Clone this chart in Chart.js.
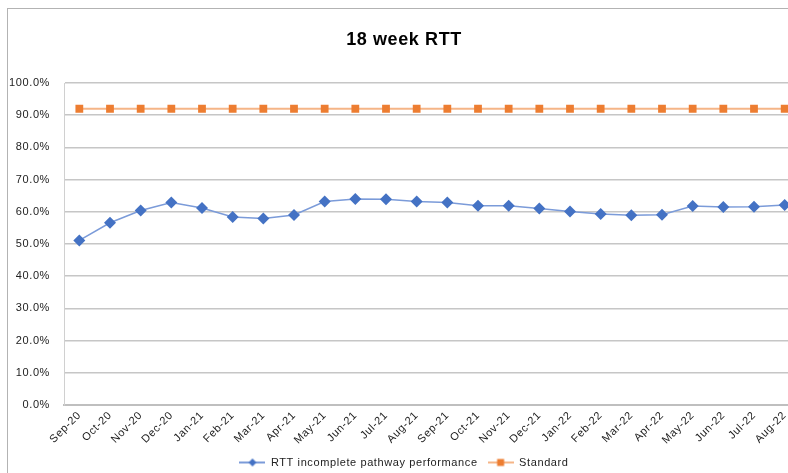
<!DOCTYPE html>
<html>
<head>
<meta charset="utf-8">
<script src="https://cdn.jsdelivr.net/npm/chart.js@4.4.1/dist/chart.umd.min.js"></script>
<style>
  html, body { margin: 0; padding: 0; background: #fff; overflow: hidden; width: 788px; height: 473px; }
  #frame { position: absolute; left: 7px; top: 8px; width: 830px; height: 500px; border-left: 1px solid #b3b3b3; border-top: 1px solid #b3b3b3; }
  #c { position: absolute; left: 0; top: 0; }
</style>
</head>
<body>
<div id="frame"><canvas id="c" width="800" height="464"></canvas></div>
<script>
const months = ['Sep-20','Oct-20','Nov-20','Dec-20','Jan-21','Feb-21','Mar-21','Apr-21','May-21','Jun-21','Jul-21','Aug-21',
                'Sep-21','Oct-21','Nov-21','Dec-21','Jan-22','Feb-22','Mar-22','Apr-22','May-22','Jun-22','Jul-22','Aug-22'];
const rttPerformance = [51.1,56.6,60.4,62.9,61.2,58.4,57.9,59.0,63.2,64.0,63.9,63.2,
                        62.9,61.9,61.9,61.0,60.1,59.3,58.9,59.1,61.8,61.5,61.6,62.1];
const standardValues = [92,92,92,92,92,92,92,92,92,92,92,92,
                        92,92,92,92,92,92,92,92,92,92,92,92];
const yTicks = [0,10,20,30,40,50,60,70,80,90,100];
const seriesNames = ['RTT incomplete pathway performance','Standard'];
const chartTitle = '18 week RTT';

const FONT = "'Liberation Sans', Arial, sans-serif";
const blueMark = '#4472C4', blueLine = '#7b9bd9';
const orangeMark = '#ED7D31', orangeLine = '#f5b587';

function legendIcon(lineColor, markColor, shape) {
  const cv = document.createElement('canvas');
  cv.width = 26; cv.height = 12;
  const g = cv.getContext('2d');
  g.strokeStyle = lineColor; g.lineWidth = 2;
  g.beginPath(); g.moveTo(0, 6); g.lineTo(26, 6); g.stroke();
  g.fillStyle = markColor;
  g.beginPath();
  if (shape === 'diamond') { g.moveTo(13, 2); g.lineTo(17, 6); g.lineTo(13, 10); g.lineTo(9, 6); g.closePath(); }
  else { g.rect(9.5, 2.5, 7, 7); }
  g.fill();
  return cv;
}
const icons = [legendIcon(blueLine, blueMark, 'diamond'), legendIcon(orangeLine, orangeMark, 'square')];

const spacingPlugin = {
  id: 'spacing',
  beforeLayout(chart) { chart.ctx.letterSpacing = '0.6px'; },
  beforeDraw(chart) { chart.ctx.letterSpacing = '0.6px'; }
};

new Chart(document.getElementById('c'), {
  type: 'line',
  data: {
    labels: months,
    datasets: [
      { label: seriesNames[0], data: rttPerformance, borderColor: blueLine, borderWidth: 1.5,
        pointStyle: 'rectRot', pointRadius: 6, pointBackgroundColor: blueMark, pointBorderColor: blueMark, pointBorderWidth: 0,
        tension: 0, fill: false },
      { label: seriesNames[1], data: standardValues, borderColor: orangeLine, borderWidth: 2,
        pointStyle: 'rect', pointRadius: 5.5, pointBackgroundColor: orangeMark, pointBorderColor: orangeMark, pointBorderWidth: 0,
        tension: 0, fill: false }
    ]
  },
  options: {
    responsive: false,
    animation: false,
    devicePixelRatio: 1,
    layout: { padding: { left: 0, right: 8, top: 0, bottom: -5 } },
    plugins: {
      title: { display: true, text: chartTitle, color: '#000',
               font: { family: FONT, size: 18, weight: 'bold' }, padding: { top: 20, bottom: 32.4 } },
      legend: {
        position: 'bottom',
        labels: {
          usePointStyle: true, pointStyleWidth: 26, padding: 10, color: '#222',
          font: { family: FONT, size: 11 },
          generateLabels(chart) {
            return chart.data.datasets.map((ds, i) => ({
              text: ds.label, pointStyle: icons[i], fillStyle: 'transparent', strokeStyle: 'transparent',
              lineWidth: 0, datasetIndex: i, hidden: false, fontColor: '#222'
            }));
          }
        }
      },
      tooltip: { enabled: false }
    },
    scales: {
      x: {
        offset: true,
        grid: { display: false, drawTicks: false },
        border: { display: true, color: '#bfbfbf', width: 2 },
        ticks: { minRotation: 45, maxRotation: 45, autoSkip: false, padding: 4, color: '#222',
                 font: { family: FONT, size: 11 } },
        afterFit(scale) { scale.height = 42; }
      },
      y: {
        min: 0, max: 100,
        afterBuildTicks(scale) { scale.ticks = yTicks.map(v => ({ value: v })); },
        grid: { color: '#c6c6c6', lineWidth: 1.5, drawTicks: false },
        border: { display: true, color: '#d0d0d0', width: 1 },
        ticks: { padding: 14, color: '#222', font: { family: FONT, size: 11 },
                 callback: v => v.toFixed(1) + '%' },
        afterFit(scale) { scale.width = 56; }
      }
    }
  },
  plugins: [spacingPlugin]
});
</script>
</body>
</html>
